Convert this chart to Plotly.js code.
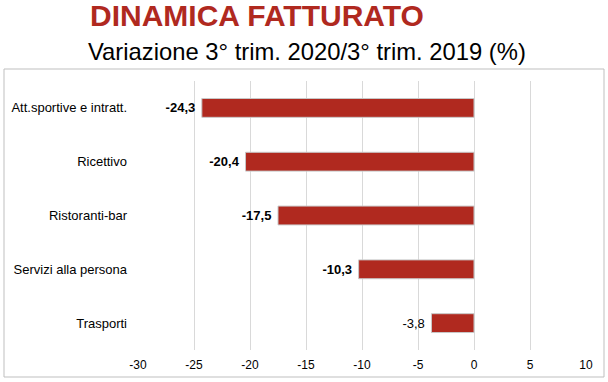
<!DOCTYPE html>
<html>
<head>
<meta charset="utf-8">
<script src="https://cdn.plot.ly/plotly-3.0.1.min.js"></script>
<style>html,body{margin:0;padding:0;background:#fff;}</style>
</head>
<body>
<div id="chart" style="width:608px;height:382px;"></div>
<script>
const categories = ["Att.sportive e intratt.", "Ricettivo", "Ristoranti-bar", "Servizi alla persona", "Trasporti"];
const values = [-24.3, -20.4, -17.5, -10.3, -3.8];
const labelWeights = ['bold', 'bold', 'bold', 'bold', 'normal'];
const xTicks = [-30, -25, -20, -15, -10, -5, 0, 5, 10];

const labels = values.map(v => v.toFixed(1).replace('.', ',') + '\u00a0');

const trace = {
  type: 'bar',
  orientation: 'h',
  x: values,
  y: categories,
  width: 0.35,
  marker: {color: '#B0291F', line: {color: '#c8c8c8', width: 1}},
  text: labels,
  textposition: 'outside',
  cliponaxis: false,
  textfont: {family: 'Liberation Sans, Arial, sans-serif', size: 13, color: '#000', weight: labelWeights},
  hoverinfo: 'none'
};

const W = 448, H = 269, L = 138, T = 81;
const px = x => (x - L) / W;
const py = y => (T + H - y) / H;

const layout = {
  width: 608, height: 382,
  margin: {l: L, r: 608 - L - W, t: T, b: 382 - T - H},
  paper_bgcolor: '#fff', plot_bgcolor: '#fff',
  showlegend: false,
  separators: ',.',
  font: {family: 'Liberation Sans, Arial, sans-serif', size: 12, color: '#000'},
  xaxis: {
    range: [-30, 10], tickvals: xTicks, ticktext: xTicks.map(String),
    showgrid: true, gridcolor: '#d9d9d9', gridwidth: 1,
    zeroline: false, showline: false, ticks: '',
    ticklabelstandoff: 6,
    tickfont: {size: 12, color: '#000'}
  },
  yaxis: {
    autorange: 'reversed', showgrid: false, zeroline: false, showline: false,
    ticks: '', ticklabelstandoff: 10,
    tickfont: {size: 13, color: '#000'}
  },
  shapes: [{
    type: 'rect', xref: 'paper', yref: 'paper',
    x0: px(4), x1: px(604), y0: py(377), y1: py(69),
    line: {color: '#bfbfbf', width: 1}
  }],
  annotations: [
    {text: '<b>DINAMICA FATTURATO</b>', xref: 'paper', yref: 'paper', x: px(88), y: py(34),
     xanchor: 'left', yanchor: 'bottom', showarrow: false,
     font: {family: 'Liberation Sans, Arial, sans-serif', size: 30, color: '#B0291F'}},
    {text: 'Variazione 3° trim. 2020/3° trim. 2019 (%)', xref: 'paper', yref: 'paper', x: px(86), y: py(67),
     xanchor: 'left', yanchor: 'bottom', showarrow: false,
     font: {family: 'Liberation Sans, Arial, sans-serif', size: 23.8, color: '#000'}}
  ]
};

Plotly.newPlot('chart', [trace], layout, {displayModeBar: false, staticPlot: true});
</script>
</body>
</html>
